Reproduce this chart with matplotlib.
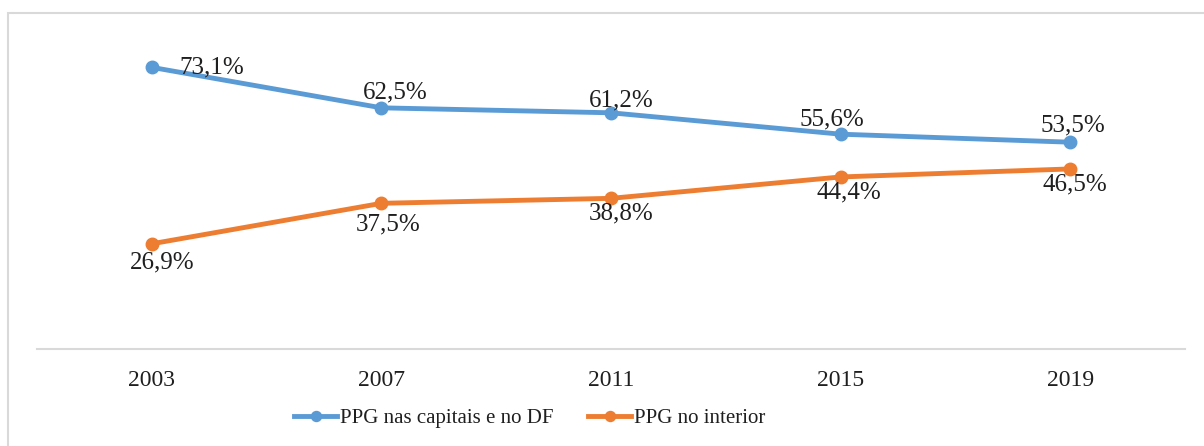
import matplotlib.pyplot as plt
from matplotlib.patches import Rectangle

# Data
anos = ['2003', '2007', '2011', '2015', '2019']
capitais = [73.1, 62.5, 61.2, 55.6, 53.5]
interior = [26.9, 37.5, 38.8, 44.4, 46.5]
nomes = ['PPG nas capitais e no DF', 'PPG no interior']

# label offsets (pixels, right/down) for the value labels
off_cap = [(60, 0), (14, -15), (10, -12), (-9, -15), (3, -17)]
off_int = [(10, 19), (7, 21), (10, 15), (8, 15), (5, 16)]

azul = '#5B9BD5'
laranja = '#ED7D31'
plt.rcParams['font.family'] = ['Liberation Serif', 'DejaVu Serif']

fig = plt.figure(figsize=(12.04, 4.46), dpi=100)
W, H = 1204, 446
ax = fig.add_axes([37/W, (H-349)/H, (1185-37)/W, 308/H])

x = list(range(len(anos)))
ax.plot(x, capitais, '-o', color=azul, lw=3.5, ms=9, label=nomes[0])
ax.plot(x, interior, '-o', color=laranja, lw=3.5, ms=9, label=nomes[1])

def fmt(v):
    return ('%.1f%%' % v).replace('.', ',')

px = 72/100.0
for i in x:
    dx, dy = off_cap[i]
    ax.annotate(fmt(capitais[i]), (i, capitais[i]), xytext=(dx*px, -dy*px),
                textcoords='offset points', ha='center', va='center',
                fontsize=18, color='#1f1f1f')
    dx, dy = off_int[i]
    ax.annotate(fmt(interior[i]), (i, interior[i]), xytext=(dx*px, -dy*px),
                textcoords='offset points', ha='center', va='center',
                fontsize=18, color='#1f1f1f')

ax.set_xlim(-0.5, len(anos)-0.5)
ax.set_ylim(-0.65, 80)
ax.set_xticks(x)
ax.set_xticklabels(anos, fontsize=17, color='#1f1f1f')
ax.tick_params(axis='x', length=0, pad=15)
ax.set_yticks([])
for s in ['top', 'right', 'left']:
    ax.spines[s].set_visible(False)
ax.spines['bottom'].set_color('#D9D9D9')
ax.spines['bottom'].set_linewidth(1.5)

fig.legend(loc='center', bbox_to_anchor=(530/W, 1-418/H), ncol=2, frameon=False,
           fontsize=15, handlelength=2.05, handletextpad=0.15, columnspacing=1.67,
           labelcolor='#1f1f1f', markerscale=0.8)

# light frame around the chart area
fig.patches.append(Rectangle((8/W, -0.1), 1.2, 1.1-13/H, transform=fig.transFigure,
                             fill=False, edgecolor='#D9D9D9', lw=1.5))

fig.savefig('out.png', dpi=100)
